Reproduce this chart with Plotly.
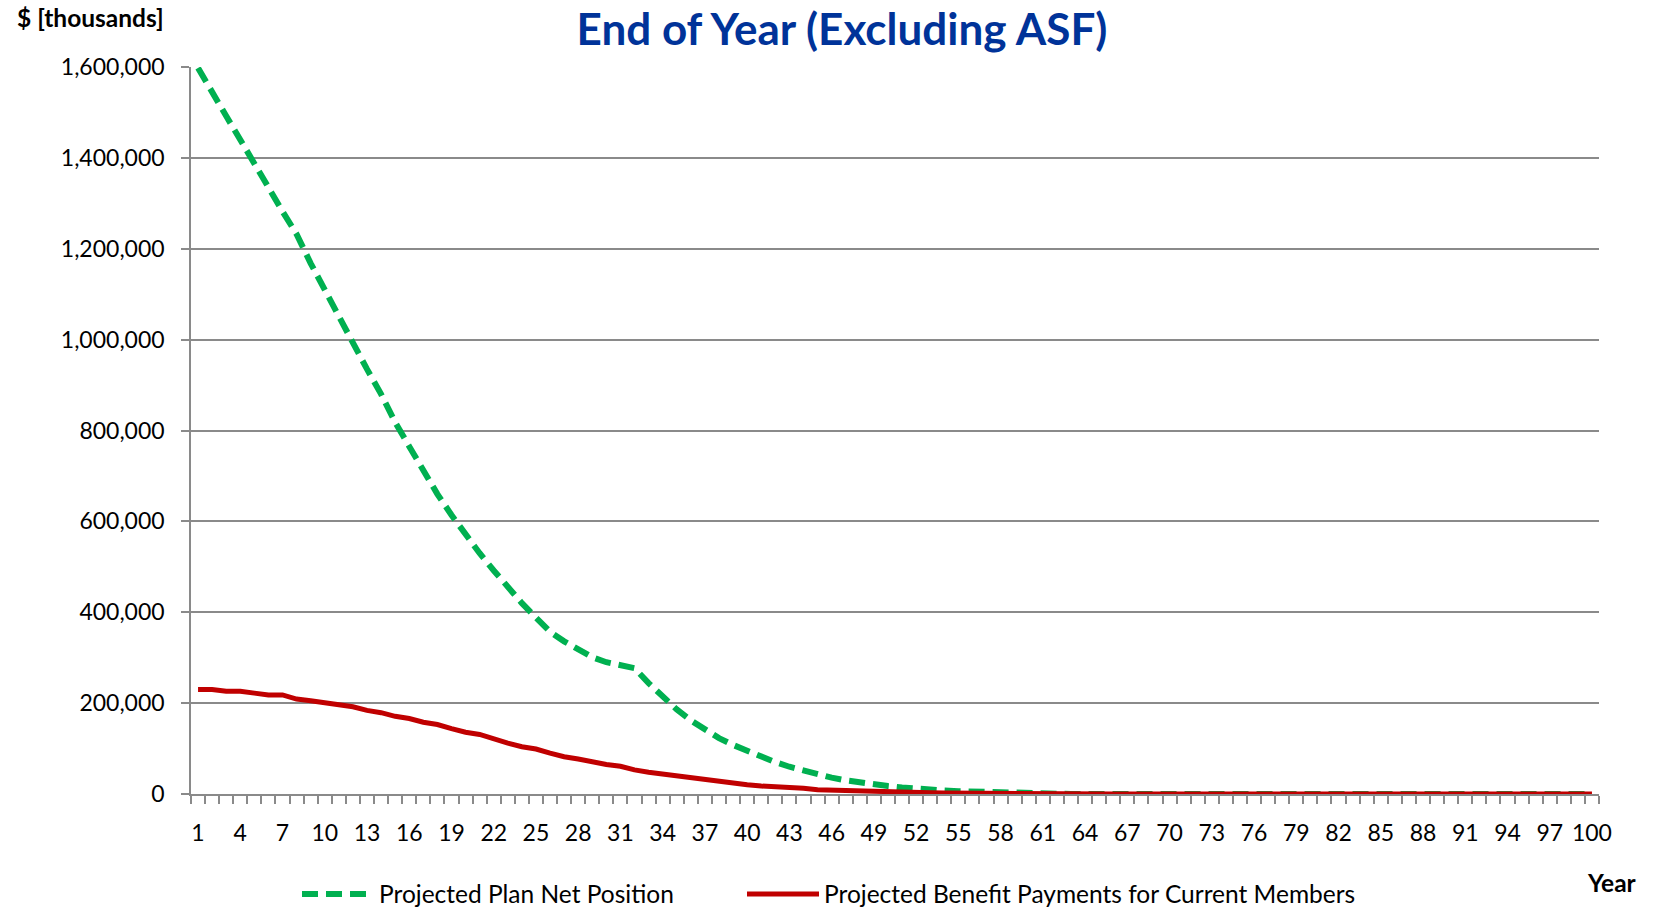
import plotly.graph_objects as go

years = list(range(1, 101))

net_position = [
    1598000, 1548000, 1492000, 1440000, 1390000, 1335000, 1282000, 1232000, 1168000, 1108000,
    1050000, 995000, 935000, 880000, 818000, 765000, 712000, 660000, 614000, 570000,
    530000, 492000, 455000, 420000, 388000, 357000, 336000, 317000, 301000, 290000,
    284000, 277000, 244000, 213000, 186000, 162000, 141000, 123000, 108000, 95000,
    82000, 70000, 60000, 51000, 43000, 36000, 30000, 25000, 21000, 17500,
    14500, 11500, 9500, 7800, 6300, 5200, 4300, 3600, 3000, 2200,
    1200, 500, 0, 0, 0, 0, 0, 0, 0, 0,
    0, 0, 0, 0, 0, 0, 0, 0, 0, 0,
    0, 0, 0, 0, 0, 0, 0, 0, 0, 0,
    0, 0, 0, 0, 0, 0, 0, 0, 0, 0,
]

benefit_payments = [
    230000, 230000, 226000, 226000, 222000, 218000, 218000, 209000, 205000, 201000,
    197000, 192000, 184000, 179000, 171000, 166000, 158000, 153000, 144000, 136000,
    131000, 121000, 112000, 104000, 99000, 90000, 82000, 77000, 70000, 65000,
    61000, 53000, 48000, 44000, 39000, 35000, 30000, 26000, 22000, 20500,
    17500, 16500, 13500, 12500, 9500, 8500, 7800, 5000, 4000, 3600,
    3300, 3000, 2600, 2200, 1800, 1500, 1200, 1000, 800, 650,
    520, 420, 340, 280, 230, 190, 160, 130, 110, 90,
    75, 60, 50, 40, 35, 30, 25, 20, 15, 12,
    10, 8, 6, 5, 4, 3, 3, 2, 2, 1,
    1, 1, 1, 1, 0, 0, 0, 0, 0, 0,
]

x_labels = list(range(1, 101, 3))
y_ticks = [0, 200000, 400000, 600000, 800000, 1000000, 1200000, 1400000, 1600000]

title_text = "End of Year (Excluding ASF)"
y_unit_text = "$ [thousands]"
x_title_text = "Year"
name_net = "Projected Plan Net Position"
name_ben = "Projected Benefit Payments for Current Members"

GRID = "#8a8a8a"
FONT = "Lato"

fig = go.Figure()
fig.add_trace(go.Scatter(
    x=years, y=net_position, mode="lines", name=name_net,
    line=dict(color="#00B050", width=6, dash="16px,8px"),
    legendwidth=358,
))
fig.add_trace(go.Scatter(
    x=years, y=benefit_payments, mode="lines", name=name_ben,
    line=dict(color="#C00000", width=5),
))

fig.update_layout(
    width=1653, height=910,
    margin=dict(l=191, r=54, t=67, b=116, autoexpand=False),
    paper_bgcolor="white", plot_bgcolor="white",
    font=dict(family=FONT, size=23, color="#000000"),
    title=dict(text="<b>" + title_text + "</b>", x=842 / 1653, xanchor="center",
               y=1 - 30 / 910, yanchor="middle",
               font=dict(family=FONT, size=44, color="#003399")),
    showlegend=True,
    legend=dict(orientation="h", x=(297 - 191) / 1408, xanchor="left",
                y=-(894 - 794) / 727, yanchor="middle",
                font=dict(family=FONT, size=24.5, color="#000000"),
                itemwidth=72, bgcolor="rgba(0,0,0,0)"),
    xaxis=dict(
        range=[0.5, 100.5], tickmode="array", tickvals=x_labels,
        ticktext=[str(v) for v in x_labels], ticks="",
        showgrid=False, zeroline=False,
        showline=True, linecolor=GRID, linewidth=1.5,
        ticklabelstandoff=18,
        tickfont=dict(family=FONT, size=23, color="#000000"),
        minor=dict(tick0=0.5, dtick=1, ticks="outside", ticklen=8,
                   tickcolor=GRID, tickwidth=1.5, showgrid=False),
    ),
    yaxis=dict(
        range=[0, 1600000], tickmode="array", tickvals=y_ticks,
        tickformat=",d", ticks="outside", ticklen=8, tickcolor=GRID, tickwidth=1.5,
        showgrid=True, gridcolor=GRID, gridwidth=1.5, zeroline=False,
        showline=True, linecolor=GRID, linewidth=1.5,
        ticklabelstandoff=12,
        tickfont=dict(family=FONT, size=23, color="#000000"),
    ),
    annotations=[
        dict(text="<b>" + y_unit_text + "</b>", xref="paper", yref="paper",
             x=-(191 - 15) / 1408, xanchor="left", y=1 + (67 - 18) / 727, yanchor="middle",
             showarrow=False, font=dict(family=FONT, size=24.5, color="#000000")),
        dict(text="<b>" + x_title_text + "</b>", xref="paper", yref="paper",
             x=(1639 - 191) / 1408, xanchor="right", y=-(882 - 794) / 727, yanchor="middle",
             showarrow=False, font=dict(family=FONT, size=24.5, color="#000000")),
    ],
)

fig.write_html("out.html", config={"displayModeBar": False},
               post_script="document.body.style.margin='0';document.body.style.overflow='hidden';")
